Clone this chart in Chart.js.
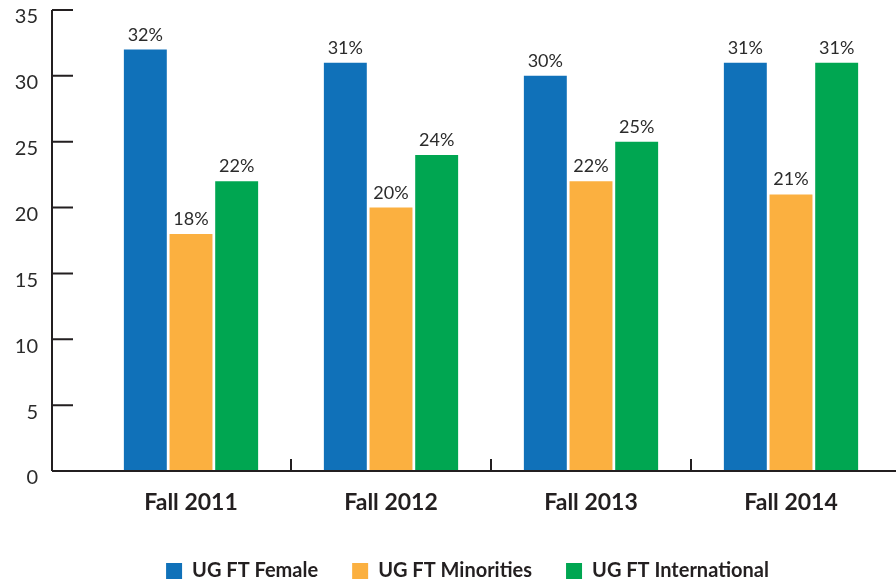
<!DOCTYPE html>
<html>
<head>
<meta charset="utf-8">
<script src="https://cdn.jsdelivr.net/npm/chart.js@4"></script>
<style>
    html, body { margin: 0; padding: 0; background: #fff; }
    #wrap { width: 896px; height: 581px; }
</style>
</head>
<body>
<div id="wrap"><canvas id="ugChart"></canvas></div>
<script>
const terms = ['Fall 2011', 'Fall 2012', 'Fall 2013', 'Fall 2014'];
const femaleShare = [32, 31, 30, 31];
const minorityShare = [18, 20, 22, 21];
const internationalShare = [22, 24, 25, 31];
const yTicks = [0, 5, 10, 15, 20, 25, 30, 35];

const inkColor = '#231f20';

// axis lines + small tick marks, drawn like the print version
const axisPlugin = {
    id: 'printAxes',
    afterLayout(chart) {
        // legend sits a bit right of the page centre in the original
        chart.legend.left += 22;
        chart.legend.right += 22;
    },
    afterDraw(chart) {
        const ctx = chart.ctx;
        const area = chart.chartArea;
        const yScale = chart.scales.y;
        const xScale = chart.scales.x;
        const axisX = area.left - 39;
        ctx.save();
        ctx.strokeStyle = inkColor;
        ctx.lineWidth = 2;
        ctx.beginPath();
        ctx.moveTo(axisX, area.top);
        ctx.lineTo(axisX, area.bottom);
        ctx.moveTo(axisX, area.bottom);
        ctx.lineTo(chart.width, area.bottom);
        yTicks.forEach(v => {
            const py = yScale.getPixelForValue(v);
            ctx.moveTo(axisX, py);
            ctx.lineTo(axisX + 21, py);
        });
        for (let i = 0; i < terms.length - 1; i++) {
            const px = (xScale.getPixelForValue(i) + xScale.getPixelForValue(i + 1)) / 2;
            ctx.moveTo(px, area.bottom);
            ctx.lineTo(px, area.bottom - 12);
        }
        ctx.stroke();
        ctx.restore();
    }
};

const percentLabels = {
    id: 'percentLabels',
    afterDatasetsDraw(chart) {
        const ctx = chart.ctx;
        ctx.save();
        ctx.font = '18px Lato';
        ctx.fillStyle = '#2b2b2b';
        ctx.textAlign = 'center';
        ctx.textBaseline = 'alphabetic';
        chart.data.datasets.forEach((ds, i) => {
            chart.getDatasetMeta(i).data.forEach((bar, j) => {
                ctx.fillText(ds.data[j] + '%', bar.x, bar.y - 9);
            });
        });
        ctx.restore();
    }
};

Chart.defaults.font.family = 'Lato';

new Chart(document.getElementById('ugChart').getContext('2d'), {
    type: 'bar',
    data: {
        labels: terms,
        datasets: [
            {
                label: 'UG FT Female',
                data: femaleShare,
                backgroundColor: '#1071b9'
            },
            {
                label: 'UG FT Minorities',
                data: minorityShare,
                backgroundColor: '#fbb040'
            },
            {
                label: 'UG FT International',
                data: internationalShare,
                backgroundColor: '#00a651'
            }
        ]
    },
    options: {
        responsive: true,
        maintainAspectRatio: false,
        animation: false,
        layout: {
            padding: { top: 10, left: 0, right: 5, bottom: 0 }
        },
        datasets: {
            bar: {
                categoryPercentage: 0.685,
                barPercentage: 0.94
            }
        },
        plugins: {
            tooltip: { enabled: false },
            legend: {
                position: 'bottom',
                maxHeight: 54,
                labels: {
                    boxWidth: 16,
                    boxHeight: 16,
                    padding: 34,
                    color: inkColor,
                    font: { size: 20, weight: 'bold' }
                }
            }
        },
        scales: {
            x: {
                grid: { display: false, drawTicks: false },
                border: { display: false },
                ticks: {
                    color: inkColor,
                    padding: 18,
                    font: { size: 23, weight: 'bold' }
                },
                afterFit: function (scale) {
                    scale.height = 56;
                }
            },
            y: {
                min: 0,
                max: 35,
                grid: { display: false, drawTicks: false },
                border: { display: false },
                ticks: {
                    stepSize: 5,
                    color: '#2b2b2b',
                    padding: 53,
                    labelOffset: 7,
                    font: { size: 20 }
                },
                afterFit: function (scale) {
                    scale.width = 91;
                    scale.paddingTop = 0;
                    scale.paddingBottom = 0;
                }
            }
        }
    },
    plugins: [axisPlugin, percentLabels]
});
</script>
</body>
</html>
